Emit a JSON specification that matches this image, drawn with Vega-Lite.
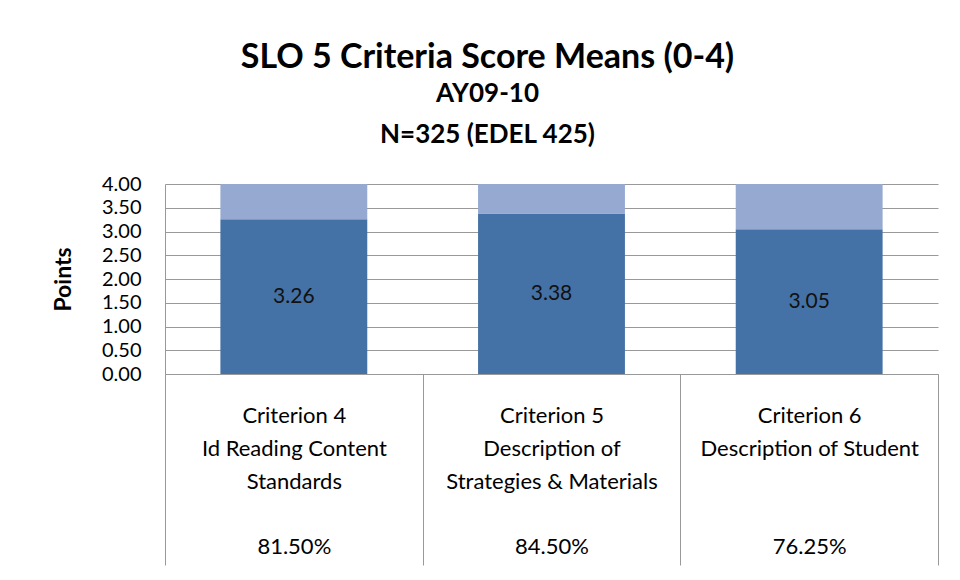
{
  "$schema": "https://vega.github.io/schema/vega-lite/v6.json",
  "width": 773,
  "height": 190,
  "autosize": {"type": "none"},
  "padding": {"left": 165, "top": 184, "right": 22, "bottom": 206},
  "background": "white",
  "config": {"view": {"stroke": null}},
  "title": {
    "text": "SLO 5 Criteria Score Means (0-4)",
    "subtitle": ["AY09-10", "N=325 (EDEL 425)"],
    "font": "Lato", "fontSize": 34, "fontWeight": "bold", "color": "#000",
    "subtitleFont": "Lato", "subtitleFontSize": 26, "subtitleFontWeight": "bold", "subtitleColor": "#000",
    "subtitleLineHeight": 41, "subtitlePadding": 6,
    "anchor": "middle", "dx": -64, "offset": 26
  },
  "data": {
    "values": [
      {"criterion": "Criterion 4|Id Reading Content|Standards", "pct": "81.50%", "series": "Mean", "value": 3.26},
      {"criterion": "Criterion 4|Id Reading Content|Standards", "pct": "81.50%", "series": "Remaining", "value": 0.74},
      {"criterion": "Criterion 5|Description of|Strategies & Materials", "pct": "84.50%", "series": "Mean", "value": 3.38},
      {"criterion": "Criterion 5|Description of|Strategies & Materials", "pct": "84.50%", "series": "Remaining", "value": 0.62},
      {"criterion": "Criterion 6|Description of Student", "pct": "76.25%", "series": "Mean", "value": 3.05},
      {"criterion": "Criterion 6|Description of Student", "pct": "76.25%", "series": "Remaining", "value": 0.95}
    ]
  },
  "layer": [
    {
      "mark": {"type": "bar", "width": {"band": 0.57}},
      "encoding": {
        "x": {
          "field": "criterion", "type": "nominal", "sort": null,
          "scale": {"paddingInner": 0, "paddingOuter": 0},
          "axis": {
            "title": null, "labelExpr": "split(datum.label, '|')",
            "labelFont": "Lato", "labelFontSize": 22, "labelColor": "#000",
            "labelAngle": 0, "labelLineHeight": 33, "labelLimit": 300,
            "tickBand": "extent", "tickSize": 191, "tickColor": "#999",
            "domainColor": "#999", "labelPadding": -160, "grid": false
          }
        },
        "y": {
          "field": "value", "type": "quantitative", "stack": "zero",
          "scale": {"domain": [0, 4]},
          "axis": {
            "title": "Points", "titleFont": "Lato", "titleFontSize": 23, "titleFontWeight": "bold", "titleColor": "#000",
            "format": ".2f", "values": [0, 0.5, 1, 1.5, 2, 2.5, 3, 3.5, 4],
            "labelFont": "Lato", "labelFontSize": 20, "labelColor": "#000",
            "ticks": false, "labelPadding": 24, "domainColor": "#999",
            "grid": true, "gridColor": "#999", "titlePadding": 26
          }
        },
        "color": {
          "field": "series", "type": "nominal",
          "scale": {"domain": ["Mean", "Remaining"], "range": ["#4472A6", "#95A9D1"]},
          "legend": null
        },
        "order": {"field": "series", "sort": "ascending"}
      }
    },
    {
      "transform": [{"filter": "datum.series === 'Mean'"}],
      "mark": {"type": "text", "font": "Lato", "fontSize": 21, "color": "#111", "baseline": "middle"},
      "encoding": {
        "x": {
          "field": "pct", "type": "nominal", "sort": null,
          "scale": {"paddingInner": 0, "paddingOuter": 0},
          "axis": {
            "title": null, "orient": "bottom",
            "labelFont": "Lato", "labelFontSize": 22, "labelColor": "#000",
            "labelAngle": 0, "labelLimit": 300,
            "ticks": false, "domain": false, "grid": false, "labelPadding": 162
          }
        },
        "y": {"field": "value", "type": "quantitative", "stack": null, "scale": {"domain": [0, 8]}, "axis": null},
        "text": {"field": "value", "type": "quantitative", "format": ".2f"}
      }
    }
  ],
  "resolve": {"scale": {"y": "independent", "x": "independent"}, "axis": {"x": "independent"}}
}
